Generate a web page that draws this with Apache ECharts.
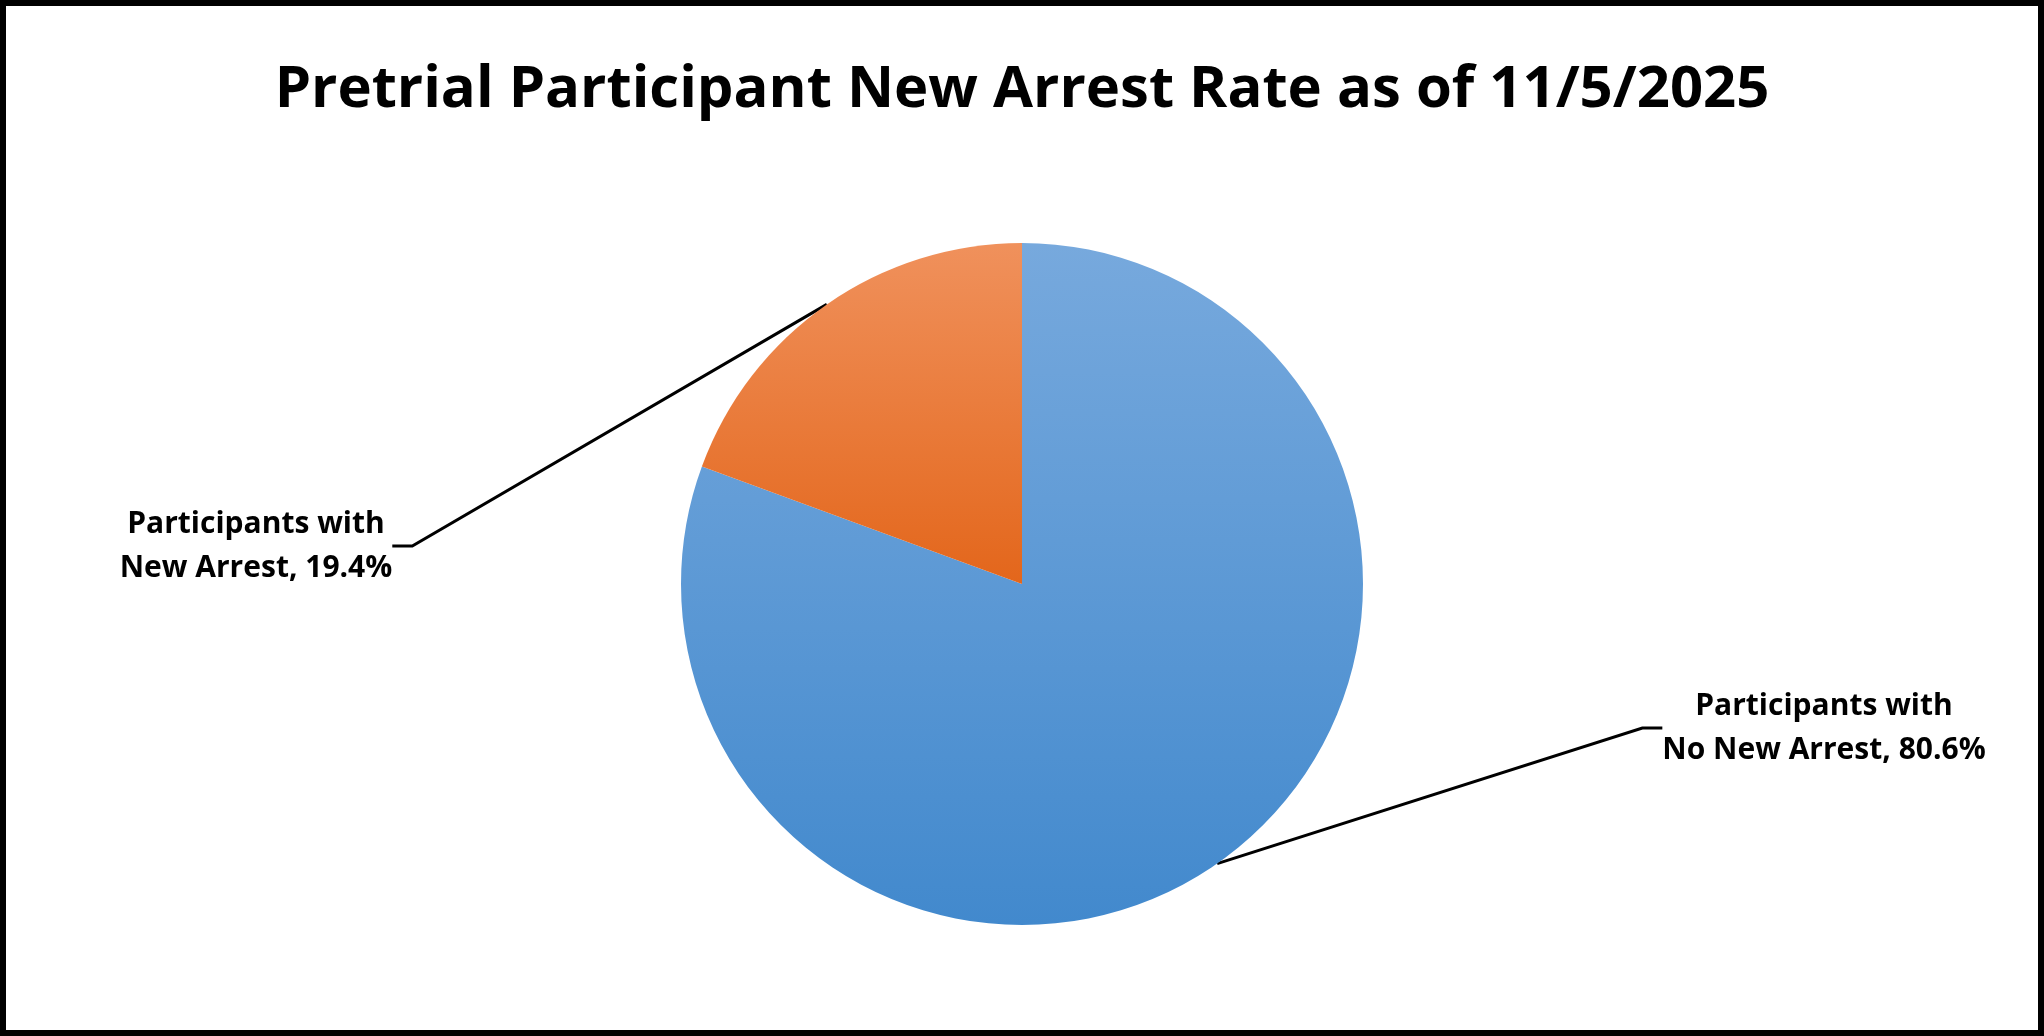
<!DOCTYPE html>
<html><head><meta charset="utf-8">
<script src="https://cdn.jsdelivr.net/npm/echarts@6/dist/echarts.min.js"></script>
<style>html,body{margin:0;padding:0;background:#fff}#c{width:2044px;height:1036px;box-sizing:border-box;border:6px solid #000}</style>
</head><body><div id="c"></div>
<script>
const categories = ['Participants with\nNo New Arrest', 'Participants with\nNew Arrest'];
const values = [80.6, 19.4];
const colors = [['#77A9DD', '#4289CD'], ['#F0915C', '#E3661B']];
const labelPos = [[1818, 722], [250, 540]];
const chart = echarts.init(document.getElementById('c'));
chart.setOption({
  title: { text: 'Pretrial Participant New Arrest Rate as of 11/5/2025', left: 'center', top: 50,
    textStyle: { fontFamily: 'Open Sans', fontWeight: 'bold', fontSize: 58, color: '#000' } },
  series: [{
    type: 'pie', center: [1016, 578], radius: 341, startAngle: 90, clockwise: true,
    animation: false,
    data: categories.map((c, i) => ({ name: c, value: values[i],
      itemStyle: { color: { type: 'linear', x: 0, y: 0, x2: 0, y2: 1,
        colorStops: [{ offset: 0, color: colors[i][0] }, { offset: 1, color: colors[i][1] }] } } })),
    label: { show: true, formatter: p => p.name + ', ' + p.value.toFixed(1) + '%',
      fontFamily: 'Open Sans', fontWeight: 'bold', fontSize: 30, color: '#000', lineHeight: 44, align: 'center' },
    labelLine: { show: true, lineStyle: { color: '#000', width: 3 }, length: 20, length2: 20 },
    labelLayout: p => ({ x: labelPos[p.dataIndex][0], y: labelPos[p.dataIndex][1], align: 'center', verticalAlign: 'middle' })
  }]
});
</script></body></html>
